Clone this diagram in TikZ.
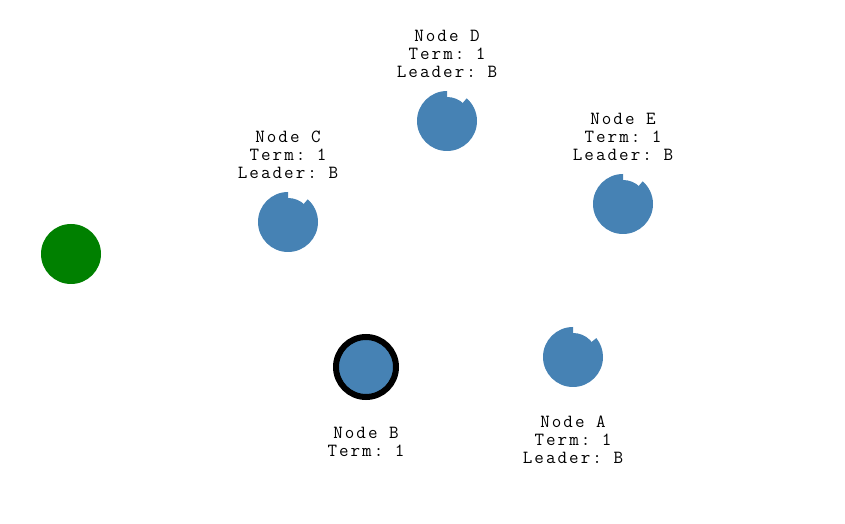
\documentclass[tikz,border=0pt]{standalone}
\usepackage{fontspec}
\setmonofont[LetterSpace=11]{Latin Modern Mono}
\usetikzlibrary{calc}

\definecolor{steelblue}{RGB}{70,130,180}
\definecolor{leafgreen}{RGB}{0,128,0}

\begin{document}
\begin{tikzpicture}[x=0.75pt,y=0.75pt,
    info/.style={anchor=north,inner sep=0pt,align=center,
      font=\ttfamily\fontsize{13.9pt}{13.5pt}\selectfont}]
  \useasboundingbox (0,0) rectangle (845,524);

  \coordinate (client) at (71,270);
  \coordinate (a) at (573,167);
  \coordinate (b) at (366,157);
  \coordinate (c) at (288,302);
  \coordinate (d) at (447,403);
  \coordinate (e) at (623,320);

  % client
  \fill[leafgreen] (client) circle [radius=30];

  % followers, notch = election timer
  \foreach \n/\t in {a/39,c/49,d/49,e/49} {
    \fill[steelblue] (\n) circle [radius=24];
    \fill[steelblue] (\n) -- ++(90:30) arc[start angle=90,end angle=360+\t,radius=30] -- cycle;
  }

  % leader
  \draw[steelblue,fill=steelblue] (b) circle [radius=30];
  \draw[black,line width=4.5pt] (b) circle [radius=30];

  \node[info] (infoA) at ($(a)+(0,-58.5)$) {Node A\\Term: 1\\Leader: B};
  \node[info] (infoB) at ($(b)+(0,-60)$) {Node B\\Term: 1};
  \node[info] (infoC) at ($(c)+(0,91.5)$) {Node C\\Term: 1\\Leader: B};
  \node[info] (infoD) at ($(d)+(0,91)$) {Node D\\Term: 1\\Leader: B};
  \node[info] (infoE) at ($(e)+(0,91.5)$) {Node E\\Term: 1\\Leader: B};
\end{tikzpicture}
\end{document}
